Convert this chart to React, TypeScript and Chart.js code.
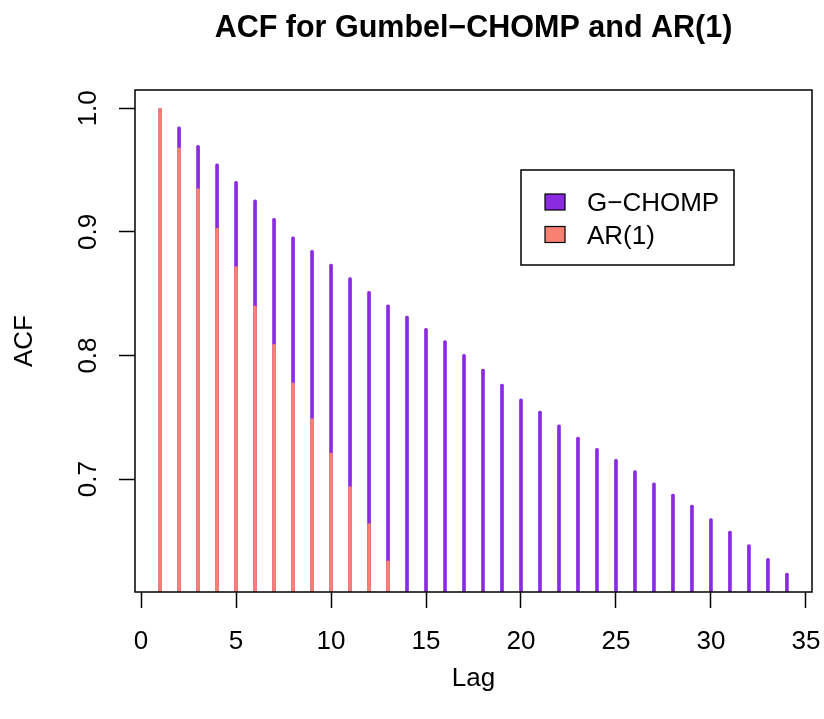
import React, { useEffect, useRef } from 'react';
import { Chart, registerables } from 'chart.js';

Chart.register(...registerables);

const lags = [1, 2, 3, 4, 5, 6, 7, 8, 9, 10, 11, 12, 13, 14, 15, 16, 17, 18, 19, 20, 21, 22, 23, 24, 25, 26, 27, 28, 29, 30, 31, 32, 33, 34];
const gchompAcf = [1.0, 0.985, 0.970, 0.955, 0.941, 0.926, 0.911, 0.896, 0.885, 0.874, 0.863, 0.852, 0.841, 0.832, 0.822, 0.812, 0.801, 0.789, 0.777, 0.765, 0.755, 0.744, 0.734, 0.725, 0.716, 0.707, 0.697, 0.688, 0.679, 0.668, 0.658, 0.647, 0.636, 0.624];
const ar1Acf = [1.0, 0.968, 0.935, 0.903, 0.872, 0.840, 0.809, 0.778, 0.749, 0.721, 0.694, 0.664, 0.634];
const xTicks = [0, 5, 10, 15, 20, 25, 30, 35];
const yTicks = [0.7, 0.8, 0.9, 1.0];
const seriesNames = ['G\u2212CHOMP', 'AR(1)'];
const seriesColors = ['#8A2BE2', '#FA8072'];
const chartTitle = 'ACF for Gumbel\u2212CHOMP and AR(1)';
const xTitle = 'Lag';
const yTitle = 'ACF';

const FONT = "'Liberation Sans', Arial, Helvetica, sans-serif";

export default function App() {
  const ref = useRef<HTMLCanvasElement>(null);

  useEffect(() => {
    if (!ref.current) return;

    const framePlugin = {
      id: 'rframe',
      afterDraw(chart: any) {
        const { ctx, chartArea } = chart;
        ctx.save();
        // plot box
        ctx.strokeStyle = '#000';
        ctx.lineWidth = 1.5;
        ctx.strokeRect(chartArea.left, chartArea.top, chartArea.right - chartArea.left, chartArea.bottom - chartArea.top);
        // legend
        const lx = chartArea.left + 386;
        const ly = chartArea.top + 80;
        const lw = 213;
        const lh = 95;
        ctx.fillStyle = '#fff';
        ctx.fillRect(lx, ly, lw, lh);
        ctx.strokeRect(lx, ly, lw, lh);
        ctx.font = `26px ${FONT}`;
        ctx.textBaseline = 'middle';
        ctx.textAlign = 'left';
        const rows = [chart.data.datasets[0], chart.data.datasets[1]];
        rows.forEach((ds: any, i: number) => {
          const cy = ly + 32 + i * 32.5;
          ctx.fillStyle = ds.backgroundColor;
          ctx.fillRect(lx + 24, cy - 8, 20, 16);
          ctx.lineWidth = 1.2;
          ctx.strokeStyle = '#000';
          ctx.strokeRect(lx + 24, cy - 8, 20, 16);
          ctx.fillStyle = '#000';
          ctx.fillText(ds.label, lx + 66, cy + 2);
        });
        ctx.restore();
      },
    };

    const chart = new Chart(ref.current, {
      type: 'bar',
      data: {
        datasets: [
          {
            label: seriesNames[0],
            data: gchompAcf.map((y, i) => ({ x: lags[i], y })),
            backgroundColor: seriesColors[0],
            barThickness: 3,
            borderRadius: { topLeft: 1.5, topRight: 1.5, bottomLeft: 0, bottomRight: 0 },
            borderSkipped: 'start',
            order: 1,
          },
          {
            label: seriesNames[1],
            data: ar1Acf.map((y, i) => ({ x: lags[i], y })),
            backgroundColor: seriesColors[1],
            barThickness: 3,
            borderRadius: { topLeft: 1.5, topRight: 1.5, bottomLeft: 0, bottomRight: 0 },
            borderSkipped: 'start',
            order: 0,
          },
        ],
      } as any,
      options: {
        responsive: false,
        animation: false,
        grouped: false,
        layout: { padding: { top: 0, left: 0, right: 12, bottom: 0 } },
        plugins: {
          legend: { display: false },
          tooltip: { enabled: false },
          title: {
            display: true,
            text: chartTitle,
            fullSize: false,
            color: '#000',
            font: { family: FONT, size: 30.5, weight: 'bold' },
            padding: { top: 10.5, bottom: 42.9 },
          },
        },
        scales: {
          x: {
            type: 'linear',
            min: -0.32,
            max: 35.32,
            offset: false,
            afterBuildTicks: (s: any) => {
              s.ticks = xTicks.map((v) => ({ value: v }));
            },
            afterFit: (s: any) => {
              s.height = 127;
              s.paddingLeft = 0;
              s.paddingRight = 0;
            },
            grid: {
              display: true,
              offset: false,
              drawOnChartArea: false,
              drawTicks: true,
              tickLength: 16,
              tickColor: '#000',
              tickWidth: 1.5,
            },
            border: { display: false },
            ticks: {
              autoSkip: false,
              maxRotation: 0,
              minRotation: 0,
              padding: 18.4,
              color: '#000',
              font: { family: FONT, size: 26 },
              callback: (v: any) => String(v),
            },
            title: {
              display: true,
              text: xTitle,
              color: '#000',
              font: { family: FONT, size: 26 },
              padding: { top: 0, bottom: 24.4 },
            },
          },
          y: {
            type: 'linear',
            min: 0.6087,
            max: 1.0148,
            afterBuildTicks: (s: any) => {
              s.ticks = yTicks.map((v) => ({ value: v }));
            },
            afterFit: (s: any) => {
              s.width = 135;
              s.paddingTop = 0;
              s.paddingBottom = 0;
            },
            grid: {
              display: true,
              offset: false,
              drawOnChartArea: false,
              drawTicks: true,
              tickLength: 16,
              tickColor: '#000',
              tickWidth: 1.5,
            },
            border: { display: false },
            ticks: {
              autoSkip: false,
              minRotation: 90,
              maxRotation: 90,
              crossAlign: 'center',
              padding: 12.6,
              color: '#000',
              font: { family: FONT, size: 26 },
              callback: (v: any) => Number(v).toFixed(1),
            },
            title: {
              display: true,
              text: yTitle,
              color: '#000',
              font: { family: FONT, size: 26 },
              padding: { top: 9.7, bottom: 0 },
            },
          },
        },
      } as any,
      plugins: [framePlugin],
    });

    return () => chart.destroy();
  }, []);

  return (
    <canvas
      ref={ref}
      width={824}
      height={719}
      style={{ position: 'absolute', left: 0, top: 0, width: 824, height: 719 }}
    />
  );
}
